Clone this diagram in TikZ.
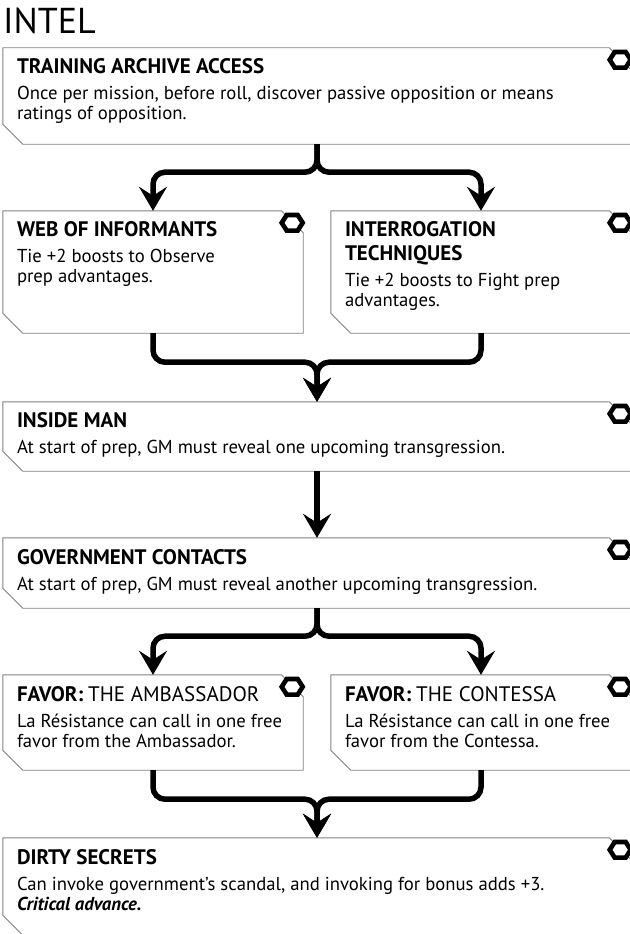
\documentclass[tikz,border=0pt]{standalone}
\usepackage{fontspec}
\setmainfont{PT Sans}
\usetikzlibrary{arrows.meta,positioning}
\newcommand{\cardbody}{\fontsize{18.7}{20}\selectfont}
\newcommand{\cardhead}{\fontsize{21}{21}\selectfont\bfseries}
\newcommand{\cardcaps}{\fontsize{21}{21}\selectfont}
\tikzset{card node/.style={rectangle, inner sep=0pt, minimum width=#1}}
\tikzset{card edge/.style={draw=black!50, line width=0.9pt}}
\tikzset{card text/.style={inner sep=0pt, align=left, font=\cardbody}}
\tikzset{hex mark/.style={draw=black, line width=4.6pt, fill=white, line join=miter}}
\tikzset{flow edge/.style={draw=black, line width=5.5pt, rounded corners=12pt,
    -{Stealth[length=24pt, width=28pt, inset=9pt]}}}
\newcommand{\cardoutline}[1]{%
  \draw[card edge] ([xshift=-22pt]#1.north east) -- (#1.north west) -- ([yshift=20pt]#1.south west)
    -- ([xshift=20pt]#1.south west) -- (#1.south east) -- ([yshift=-22pt]#1.north east) -- cycle;
  \coordinate (#1 hex) at ([shift={(-11pt,-12pt)}]#1.north east);
  \draw[hex mark] (#1 hex) ++(-10.5pt,0pt) -- ++(5pt,7.8pt) -- ++(11pt,0pt) -- ++(5pt,-7.8pt)
    -- ++(-5pt,-7.8pt) -- ++(-11pt,0pt) -- cycle;}

\begin{document}
\begin{tikzpicture}[x=1pt, y=-1pt]
  \path[use as bounding box, fill=white] (0,0) rectangle (629,934);
  \node [anchor=north west, inner sep=0pt, font=\fontsize{36}{40}\selectfont] (intel title) at (3,8) {INTEL};

  \node [card node=628pt, minimum height=96pt]  (archive)       at (317, 96)   {};
  \node [card node=300pt, minimum height=122pt] (web)           at (153, 272)  {};
  \node [card node=300pt, minimum height=122pt] (interrogation) at (481, 272)  {};
  \node [card node=628pt, minimum height=69pt]  (insideman)     at (317, 436.5) {};
  \node [card node=628pt, minimum height=70pt]  (contacts)      at (317, 573)  {};
  \node [card node=300pt, minimum height=95pt]  (ambassador)    at (153, 722.5) {};
  \node [card node=300pt, minimum height=95pt]  (contessa)      at (481, 722.5) {};
  \node [card node=628pt, minimum height=97pt]  (secrets)       at (317, 886.5) {};

  \cardoutline{archive}
  \cardoutline{web}
  \cardoutline{interrogation}
  \cardoutline{insideman}
  \cardoutline{contacts}
  \cardoutline{ambassador}
  \cardoutline{contessa}
  \cardoutline{secrets}

  \node [card text, below right=11pt and 14pt of archive.north west] (archive text)
    {{\cardhead TRAINING ARCHIVE ACCESS}\\[6pt]
     Once per mission, before roll, discover passive opposition or means\\
     ratings of opposition.};
  \node [card text, below right=11pt and 14pt of web.north west] (web text)
    {{\cardhead WEB OF INFORMANTS}\\[6pt]
     Tie +2 boosts to Observe\\
     prep advantages.};
  \node [card text, below right=11pt and 14pt of interrogation.north west] (interrogation text)
    {{\cardhead INTERROGATION}\\[4pt]
     {\cardhead TECHNIQUES}\\[6pt]
     Tie +2 boosts to Fight prep\\
     advantages.};
  \node [card text, below right=11pt and 14pt of insideman.north west] (insideman text)
    {{\cardhead INSIDE MAN}\\[6pt]
     At start of prep, GM must reveal one upcoming transgression.};
  \node [card text, below right=11pt and 14pt of contacts.north west] (contacts text)
    {{\cardhead GOVERNMENT CONTACTS}\\[6pt]
     At start of prep, GM must reveal another upcoming transgression.};
  \node [card text, below right=11pt and 14pt of ambassador.north west] (ambassador text)
    {{\cardhead FAVOR:} {\cardcaps THE AMBASSADOR}\\[6pt]
     La Résistance can call in one free\\
     favor from the Ambassador.};
  \node [card text, below right=11pt and 14pt of contessa.north west] (contessa text)
    {{\cardhead FAVOR:} {\cardcaps THE CONTESSA}\\[6pt]
     La Résistance can call in one free\\
     favor from the Contessa.};
  \node [card text, below right=11pt and 14pt of secrets.north west] (secrets text)
    {{\cardhead DIRTY SECRETS}\\[6pt]
     Can invoke government’s scandal, and invoking for bonus adds +3.\\
     \textbf{\textit{Critical advance.}}};

  \draw [flow edge] (archive.south)       -- ++(0,28) -| (web.north);
  \draw [flow edge] (archive.south)       -- ++(0,28) -| (interrogation.north);
  \draw [flow edge] (web.south)           -- ++(0,29) -| (insideman.north);
  \draw [flow edge] (interrogation.south) -- ++(0,29) -| (insideman.north);
  \draw [flow edge] (insideman.south)     -- (contacts.north);
  \draw [flow edge] (contacts.south)      -- ++(0,28) -| (ambassador.north);
  \draw [flow edge] (contacts.south)      -- ++(0,28) -| (contessa.north);
  \draw [flow edge] (ambassador.south)    -- ++(0,29) -| (secrets.north);
  \draw [flow edge] (contessa.south)      -- ++(0,29) -| (secrets.north);
\end{tikzpicture}
\end{document}
